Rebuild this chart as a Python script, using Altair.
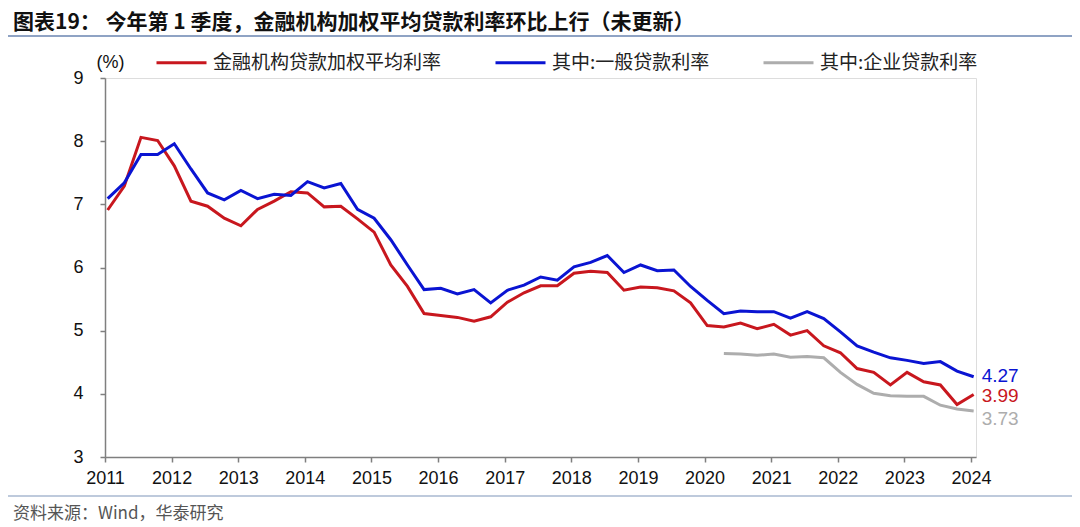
import altair as alt
import pandas as pd

# ---------------- data (quarterly, 2011Q1 .. 2024Q1) ----------------
years = list(range(2011, 2025))
quarters = [(y, q) for y in years for q in (1, 2, 3, 4)][:53]

weighted = [6.91, 7.29, 8.06, 8.01, 7.61, 7.05, 6.97, 6.78, 6.66, 6.92, 7.05, 7.20,
            7.18, 6.96, 6.97, 6.77, 6.56, 6.04, 5.70, 5.27, 5.24, 5.21, 5.15, 5.22,
            5.45, 5.60, 5.71, 5.71, 5.91, 5.94, 5.92, 5.64, 5.69, 5.68, 5.63, 5.44,
            5.08, 5.06, 5.12, 5.03, 5.10, 4.93, 5.00, 4.76, 4.65, 4.40, 4.34, 4.14,
            4.34, 4.19, 4.14, 3.83, 3.99]
general = [7.09, 7.34, 7.79, 7.79, 7.96, 7.56, 7.18, 7.07, 7.22, 7.09, 7.16, 7.14,
           7.36, 7.26, 7.33, 6.92, 6.78, 6.44, 6.04, 5.65, 5.67, 5.58, 5.65, 5.44,
           5.64, 5.72, 5.85, 5.80, 6.01, 6.08, 6.19, 5.92, 6.04, 5.95, 5.96, 5.70,
           5.48, 5.27, 5.31, 5.30, 5.30, 5.20, 5.30, 5.19, 4.98, 4.76, 4.66, 4.57,
           4.53, 4.48, 4.51, 4.36, 4.27]
# enterprise loans: available from 2020Q2
enterprise_start = 37
enterprise = [4.64, 4.63, 4.61, 4.63, 4.58, 4.59, 4.57, 4.34, 4.15, 4.01, 3.97, 3.96,
              3.96, 3.82, 3.76, 3.73]

series_names = ["金融机构贷款加权平均利率", "其中:一般贷款利率", "其中:企业贷款利率"]
series_colors = ["#C8171E", "#0A14D2", "#ADADAD"]

title_text = "图表19：  今年第 1 季度，金融机构加权平均贷款利率环比上行（未更新）"
source_text = "资料来源：Wind，华泰研究"
y_unit = "(%)"

# ---------------- build table ----------------
rows = []
for i, (y, q) in enumerate(quarters):
    t = y + (q - 1) / 4 + 0.04
    rows.append({"t": t, "series": series_names[0], "value": weighted[i], "idx": i})
    rows.append({"t": t, "series": series_names[1], "value": general[i], "idx": i})
    if i >= enterprise_start:
        rows.append({"t": t, "series": series_names[2],
                     "value": enterprise[i - enterprise_start], "idx": i})
df = pd.DataFrame(rows)
last_idx = len(quarters) - 1

W, H = 871, 379
CJK = "Noto Sans CJK SC"
LAT = "Liberation Sans"

xscale = alt.Scale(domain=[2011, 2024.075], nice=False, zero=False)
yscale = alt.Scale(domain=[3, 9], nice=False, zero=False)
cscale = alt.Scale(domain=series_names, range=series_colors)

base = alt.Chart(df)

lines = base.mark_line(strokeWidth=3, interpolate="linear").encode(
    x=alt.X("t:Q", scale=xscale,
            axis=alt.Axis(values=years, format="d", title=None, grid=False,
                          tickSize=5, labelFontSize=18, labelFont=LAT, labelColor="#111",
                          labelPadding=7, domainColor="#7F7F7F", tickColor="#7F7F7F",
                          domainWidth=1.5, tickWidth=1.5, labelFlush=False)),
    y=alt.Y("value:Q", scale=yscale,
            axis=alt.Axis(values=[3, 4, 5, 6, 7, 8, 9], format="d", title=y_unit,
                          titleAngle=0, titleX=5, titleY=-16, titleAlign="center",
                          titleBaseline="middle", titleFontSize=18, titleFont=LAT,
                          titleFontWeight="normal", titleColor="#111", grid=False,
                          tickSize=5, labelFontSize=18, labelFont=LAT, labelColor="#111",
                          labelPadding=17, domainColor="#7F7F7F", tickColor="#7F7F7F",
                          domainWidth=1.5, tickWidth=1.5)),
    color=alt.Color("series:N", scale=cscale, sort=series_names,
                    legend=alt.Legend(orient="none", legendX=50, legendY=-42,
                                      direction="horizontal", title=None,
                                      symbolType="stroke", symbolSize=2500,
                                      symbolStrokeWidth=3, labelFontSize=19,
                                      labelFont=CJK, labelColor="#222", labelLimit=500,
                                      labelOffset=5, columnPadding=47)),
    order="t:Q",
)

end_layers = []
for name, dy in zip(series_names, [2, -1, 8]):
    end_layers.append(
        base.transform_filter(
            (alt.datum.series == name) & (alt.datum.idx == last_idx)
        ).mark_text(align="left", baseline="middle", dx=8, dy=dy,
                    fontSize=19, font=LAT).encode(
            x=alt.X("t:Q", scale=xscale),
            y=alt.Y("value:Q", scale=yscale),
            text=alt.Text("value:Q", format=".2f"),
            color=alt.Color("series:N", scale=cscale, legend=None),
        )
    )

title = alt.Chart(pd.DataFrame({"s": [title_text]})).mark_text(
    align="left", baseline="middle", fontSize=21, font=CJK, fontWeight="bold",
    color="#111").encode(x=alt.value(-92), y=alt.value(-55), text="s:N")

source = alt.Chart(pd.DataFrame({"s": [source_text]})).mark_text(
    align="left", baseline="middle", fontSize=17, font=CJK,
    color="#555").encode(x=alt.value(-92), y=alt.value(436), text="s:N")

rule_df = pd.DataFrame({"k": [0]})
top_rule = alt.Chart(rule_df).mark_rule(color="#8FA3C4", strokeWidth=2).encode(
    x=alt.value(-105), x2=alt.value(975), y=alt.value(-42))
bottom_rule = alt.Chart(rule_df).mark_rule(color="#A9B8D0", strokeWidth=1.5).encode(
    x=alt.value(-105), x2=alt.value(975), y=alt.value(418))

chart = alt.layer(lines, *end_layers, title, source, top_rule, bottom_rule).properties(
    width=W, height=H,
    autosize=alt.AutoSizeParams(type="none"),
    padding={"left": 97, "top": 70, "right": 96, "bottom": 70},
).configure_view(stroke=None).configure(background="white")

chart.save("out.html", embed_options={"renderer": "svg", "actions": False})
